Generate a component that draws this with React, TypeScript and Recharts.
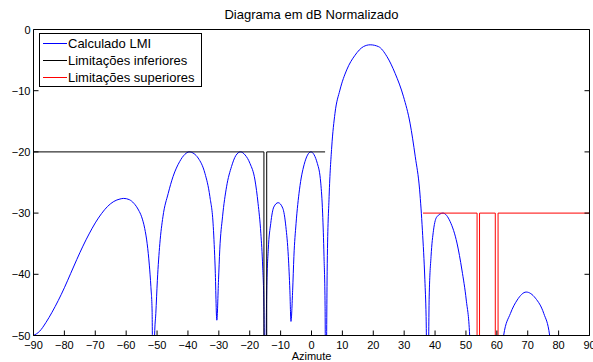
import React from 'react';
import { LineChart, Line, XAxis, YAxis, Legend } from 'recharts';

const FONT = '"Liberation Sans", Arial, Helvetica, sans-serif';

const xTicks = [-90, -80, -70, -60, -50, -40, -30, -20, -10, 0, 10, 20, 30, 40, 50, 60, 70, 80, 90];
const yTicks = [-50, -40, -30, -20, -10, 0];

const seriesNames = ['Calculado LMI', 'Limitações inferiores', 'Limitações superiores'];
const seriesColors = ['#0000ff', '#000000', '#ff0000'];

// calculated pattern (dB); nulls go below the -50 floor and get clipped
const calcAz = [
  -90, -88, -86, -84, -82, -80, -78, -76, -74, -72, -70, -68, -66, -64, -62, -60.8, -59, -57.5, -56, -55,
  -54, -53.2, -52.5, -52, -51.6, -51.3, -50.8, -50.4, -49.9, -49.1, -48.1, -46.4, -44.8, -42.7, -41, -39.6,
  -38, -36.7, -34.5, -32.9, -31.8, -31.2, -30.65, -30.1, -29.7, -28.8, -27.5, -25.9, -24.5, -23, -21.5,
  -19.9, -18.3, -17.3, -16.4, -15.8, -15.4, -15, -14.5, -14, -13.2, -12.2, -10.8, -9.3, -8.3, -7.5, -7,
  -6.65, -6.1, -5.7, -5, -3.9, -2.4, -0.2, 1.9, 3, 3.6, 4.05, 4.4, 4.6, 5.1, 5.7, 6.55, 7.6, 9.2, 11.4,
  14.1, 16.8, 19, 21.7, 24.4, 27.1, 29.8, 31.9, 33.6, 35, 35.9, 36.7, 37.1, 37.6, 38.1, 38.7, 39.5, 40.6,
  42.55, 44.9, 47.1, 48.7, 50.1, 51.2, 51.8, 56.5, 61.6, 62.2, 64.4, 66.6, 69.5, 72.5, 75.2, 77.1, 77.7,
];
const calcDb = [
  -50, -49.3, -47.9, -46.2, -44.3, -42.2, -39.9, -37.6, -35.4, -33.4, -31.6, -30.1, -28.9, -28.1, -27.7, -27.6, -27.8, -28.4, -29.5, -30.6,
  -32.5, -35, -38.5, -42, -46, -65, -50, -46.4, -41, -35, -30.6, -26.8, -24, -21.6, -20.4, -20,
  -20.3, -21, -23.5, -27.3, -32.2, -38.8, -47.5, -40.9, -36, -30.6, -25.7, -22.4, -20.6, -20, -20.5,
  -21.9, -24.6, -28.4, -33.3, -38.8, -45.3, -65, -42.6, -36, -31.7, -29, -28.3, -29.2, -32.2, -37.1, -42.6,
  -47.7, -42.6, -37.1, -31.7, -26.2, -22.1, -20, -21.9, -25.1, -30, -37.1, -45.3, -65, -38.2, -27.3, -19.2, -13.7, -9.9, -6.6,
  -4.2, -2.8, -2.5, -2.8, -4.4, -7.2, -11, -15.3, -20.8, -26.2, -32.8, -40.9, -46.9, -65, -43.7, -37.1, -32.8, -30.6,
  -30, -31.4, -34.9, -39.3, -44.2, -50, -60, -66, -60, -50, -46.4, -44.2, -42.9, -43.9, -46.4, -50, -60,
];

const lowerAz = [-90, -15.4, -15.4, -14.5, -14.5, 4.4];
const lowerDb = [-20, -20, -60, -60, -20, -20];

const upperAz = [36.1, 53.6, 53.6, 54.4, 54.4, 59.5, 59.5, 60.4, 60.4, 90];
const upperDb = [-30, -30, -60, -60, -30, -30, -60, -60, -30, -30];

const toRows = (az: number[], db: number[]) => az.map((a, i) => ({ az: a, db: db[i] }));
const calcData = toRows(calcAz, calcDb);
const lowerData = toRows(lowerAz, lowerDb);
const upperData = toRows(upperAz, upperDb);

const fmt = (v: number) => String(v).replace('-', '\u2212');

// matlab style: ticks point into the box
function BottomTick({ x, y, payload }: any) {
  return (
    <g>
      <line x1={x} y1={y} x2={x} y2={y - 5} stroke="#000" />
      <text x={x} y={y + 13} textAnchor="middle" fontSize={11} fontFamily={FONT} fill="#000">
        {fmt(payload.value)}
      </text>
    </g>
  );
}

function TopTick({ x, y }: any) {
  return <line x1={x} y1={y} x2={x} y2={y + 5} stroke="#000" />;
}

function LeftTick({ x, y, payload }: any) {
  return (
    <g>
      <line x1={x} y1={y} x2={x + 5} y2={y} stroke="#000" />
      <text x={x - 3} y={y + 4} textAnchor="end" fontSize={11} fontFamily={FONT} fill="#000">
        {fmt(payload.value)}
      </text>
    </g>
  );
}

function RightTick({ x, y }: any) {
  return <line x1={x} y1={y} x2={x - 5} y2={y} stroke="#000" />;
}

function LegendBox() {
  return (
    <div
      style={{
        position: 'relative',
        boxSizing: 'border-box',
        width: 163,
        height: 54,
        border: '1px solid #000',
        background: '#fff',
        fontFamily: FONT,
        fontSize: 13,
        lineHeight: '17px',
        color: '#000',
      }}
    >
      {seriesNames.map((name, i) => (
        <div key={name} style={{ position: 'absolute', left: 0, top: 1 + i * 17, height: 17, width: 160 }}>
          <div
            style={{
              position: 'absolute',
              left: 3,
              top: 8,
              width: 24,
              height: 1,
              background: seriesColors[i],
            }}
          />
          <div style={{ position: 'absolute', left: 28, top: 0, whiteSpace: 'nowrap' }}>{name}</div>
        </div>
      ))}
    </div>
  );
}

export default function App() {
  return (
    <div style={{ position: 'absolute', left: 0, top: 0, width: 593, height: 362, background: '#fff' }}>
      <LineChart width={593} height={362} margin={{ top: 28.5, right: 2.5, bottom: 0, left: 0 }}>
        <XAxis
          dataKey="az"
          type="number"
          domain={[-90, 90]}
          ticks={xTicks}
          interval={0}
          allowDataOverflow
          height={26.5}
          tickSize={0}
          tickMargin={0}
          tickLine={false}
          axisLine={{ stroke: '#000' }}
          tick={BottomTick}
          label={{ value: 'Azimute', position: 'insideBottom', offset: 2, fill: '#000', fontSize: 11, fontFamily: FONT }}
        />
        <XAxis
          xAxisId="top"
          orientation="top"
          type="number"
          domain={[-90, 90]}
          ticks={xTicks}
          interval={0}
          allowDataOverflow
          height={1}
          tickSize={0}
          tickMargin={0}
          tickLine={false}
          axisLine={{ stroke: '#000' }}
          tick={TopTick}
          label={{ value: 'Diagrama em dB Normalizado', position: 'top', offset: 9.5, fill: '#000', fontSize: 13, fontFamily: FONT }}
        />
        <YAxis
          type="number"
          domain={[-50, 0]}
          ticks={yTicks}
          interval={0}
          allowDataOverflow
          width={33.5}
          tickSize={0}
          tickMargin={0}
          tickLine={false}
          axisLine={{ stroke: '#000' }}
          tick={LeftTick}
        />
        <YAxis
          yAxisId="right"
          orientation="right"
          type="number"
          domain={[-50, 0]}
          ticks={yTicks}
          interval={0}
          allowDataOverflow
          width={1}
          tickSize={0}
          tickMargin={0}
          tickLine={false}
          axisLine={{ stroke: '#000' }}
          tick={RightTick}
        />
        <Legend
          layout="vertical"
          align="center"
          verticalAlign="middle"
          wrapperStyle={{ left: 39, top: 33, width: 163, height: 54 }}
          content={LegendBox}
        />
        <Line
          data={calcData}
          dataKey="db"
          name={seriesNames[0]}
          type="monotone"
          stroke={seriesColors[0]}
          strokeWidth={1}
          dot={false}
          isAnimationActive={false}
        />
        <Line
          data={lowerData}
          dataKey="db"
          name={seriesNames[1]}
          type="linear"
          stroke={seriesColors[1]}
          strokeWidth={1}
          dot={false}
          isAnimationActive={false}
        />
        <Line
          data={upperData}
          dataKey="db"
          name={seriesNames[2]}
          type="linear"
          stroke={seriesColors[2]}
          strokeWidth={1}
          dot={false}
          isAnimationActive={false}
        />
      </LineChart>
    </div>
  );
}
